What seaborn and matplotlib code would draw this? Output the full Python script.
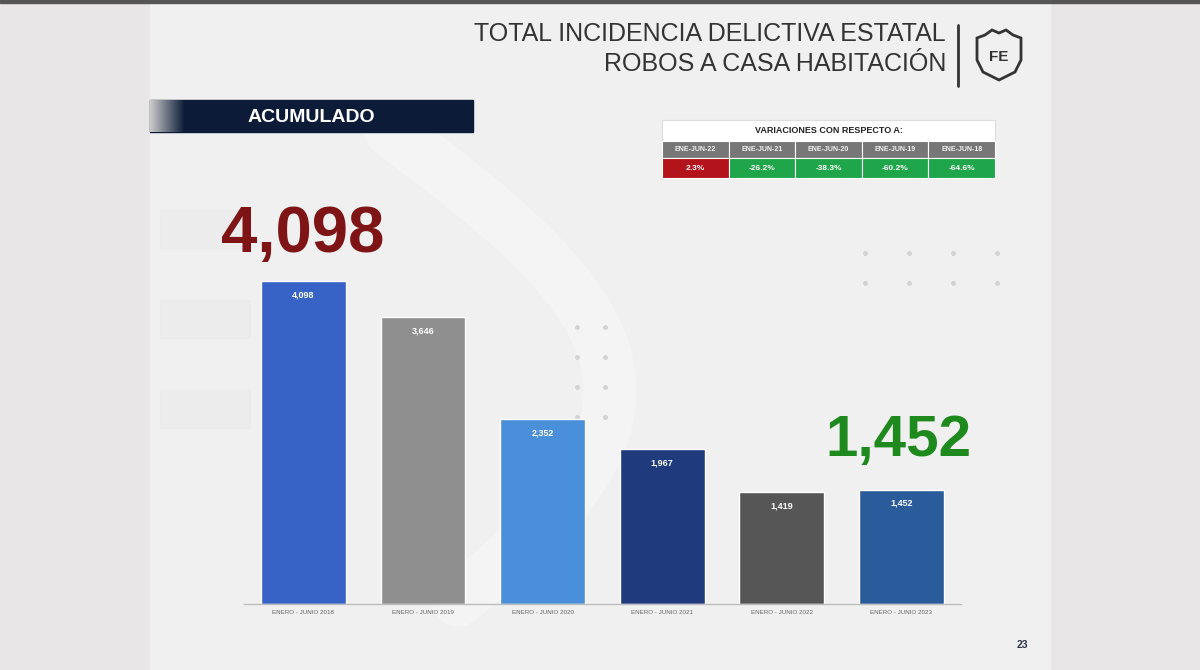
import numpy as np
import matplotlib
matplotlib.use("Agg")
import matplotlib.pyplot as plt
from matplotlib.patches import Rectangle, Polygon
import seaborn as sns
import pandas as pd

# data
periodos = ["ENERO - JUNIO 2018", "ENERO - JUNIO 2019", "ENERO - JUNIO 2020",
            "ENERO - JUNIO 2021", "ENERO - JUNIO 2022", "ENERO - JUNIO 2023"]
robos = [4098, 3646, 2352, 1967, 1419, 1452]
colores = ["#3762C6", "#8F8F8F", "#4A8FD9", "#203B7D", "#565656", "#2A5B9B"]

var_labels = ["ENE-JUN-22", "ENE-JUN-21", "ENE-JUN-20", "ENE-JUN-19", "ENE-JUN-18"]
var_values = [2.3, -26.2, -38.3, -60.2, -64.6]

df = pd.DataFrame({"periodo": periodos, "robos": robos})

sns.set_style("white")
plt.rcParams["font.family"] = ["Liberation Sans", "DejaVu Sans"]

W, H = 1200, 670
fig = plt.figure(figsize=(12, 6.7), dpi=100)
fig.patch.set_facecolor("#E8E6E6")

# background / decoration layer in pixel coords
bg = fig.add_axes([0, 0, 1, 1], zorder=0)
bg.set_xlim(0, W)
bg.set_ylim(H, 0)
bg.axis("off")
bg.add_patch(Rectangle((150, 0), 900, H, color="#F0F0F0", zorder=0))
bg.add_patch(Rectangle((0, 0), W, 3, color="#555555", zorder=1))
# faint swoosh of the logo
t = np.linspace(0, 1, 200)
bg.plot(390 + 220 * np.sin(t * np.pi * 0.9), 130 + 470 * t, color="white",
        lw=38, alpha=0.3, solid_capstyle="round", zorder=1)
for yy in (210, 300, 390):
    bg.add_patch(Rectangle((160, yy), 90, 38, color="#E6E6E6", alpha=0.3, zorder=1))
# dots
for dx in range(4):
    for dy in range(2):
        bg.plot(865 + dx * 44, 253 + dy * 30, "o", ms=2.5, color="#D3D3D3", zorder=1)
for dx in range(2):
    for dy in range(4):
        bg.plot(577 + dx * 28, 327 + dy * 30, "o", ms=2.5, color="#D3D3D3", zorder=1)

# title
bg.text(946, 34, "TOTAL INCIDENCIA DELICTIVA ESTATAL", ha="right", va="center",
        fontsize=18, color="#333333")
bg.text(946, 64, "ROBOS A CASA HABITACIÓN", ha="right", va="center",
        fontsize=18, color="#333333")
bg.plot([958, 958], [25, 86], color="#333333", lw=2)
shield = Polygon([(977, 38), (985, 35), (992, 30), (999, 33), (1006, 30), (1013, 35),
                  (1021, 38), (1021, 60), (1015, 72), (999, 80), (983, 72), (977, 60)],
                 closed=True, fill=False, ec="#333333", lw=2)
bg.add_patch(shield)
bg.text(999, 57, "FE", ha="center", va="center", fontsize=11, fontweight="bold",
        color="#333333")

# ACUMULADO banner
bg.add_patch(Rectangle((150, 100), 323, 32, color="#0C1C38", zorder=2))
grad = np.linspace(0, 1, 40).reshape(1, -1)
bg.imshow(grad, extent=(150, 185, 132, 100), cmap=matplotlib.colors.LinearSegmentedColormap.from_list(
    "g", ["#C9C9C9", "#0C1C38"]), aspect="auto", zorder=3)
bg.text(311, 117, "ACUMULADO", ha="center", va="center", fontsize=14,
        fontweight="bold", color="white", zorder=4)

# variations table
x0, cw = 662, 66.6
bg.add_patch(Rectangle((x0, 120), cw * 5, 21, fc="white", ec="#DDDDDD", lw=0.8, zorder=2))
bg.text(x0 + cw * 2.5, 130.5, "VARIACIONES CON RESPECTO A:", ha="center", va="center",
        fontsize=6.5, fontweight="bold", color="#222222", zorder=3)
for i, (lab, val) in enumerate(zip(var_labels, var_values)):
    cx = x0 + i * cw
    bg.add_patch(Rectangle((cx, 141), cw, 17, fc="#777777", ec="white", lw=0.8, zorder=2))
    bg.text(cx + cw / 2, 149.5, lab, ha="center", va="center", fontsize=5,
            fontweight="bold", color="#F2F2F2", zorder=3)
    fc = "#B3131B" if val > 0 else "#1FA64A"
    bg.add_patch(Rectangle((cx, 158), cw, 20, fc=fc, ec="white", lw=0.8, zorder=2))
    bg.text(cx + cw / 2, 168, f"{val:.1f}%", ha="center", va="center", fontsize=6,
            fontweight="bold", color="white", zorder=3)

bg.text(1022, 645, "23", ha="center", va="center", fontsize=7.5, fontweight="bold",
        color="#2B3446")

# bar chart
ax = fig.add_axes([243.7 / W, 66 / H, 717.3 / W, 394 / H], zorder=2)
ax.patch.set_alpha(0)
sns.barplot(data=df, x="periodo", y="robos", hue="periodo", palette=colores,
            legend=False, width=0.71, saturation=1, ax=ax)
ax.set_xlim(-0.5, len(periodos) - 0.5)
ax.set_ylim(0, 5000)
for s in ("top", "right", "left"):
    ax.spines[s].set_visible(False)
ax.spines["bottom"].set_color("#BDBDBD")
ax.spines["bottom"].set_linewidth(1)
ax.set_yticks([])
ax.set_xlabel("")
ax.set_ylabel("")
ax.tick_params(axis="x", length=0, pad=4, labelsize=4.5, labelcolor="#666666")

for i, v in enumerate(robos):
    ax.annotate(f"{v:,}", (i, v), xytext=(0, -10), textcoords="offset points",
                ha="center", va="center", fontsize=6.5, fontweight="bold", color="white")

# highlighted totals
ax.annotate(f"{robos[0]:,}", (0, robos[0]), xytext=(-0.5, 33), textcoords="offset points",
            ha="center", va="center", fontsize=47, fontweight="bold", color="#7E1416")
ax.annotate(f"{robos[-1]:,}", (5, robos[-1]), xytext=(-2, 35), textcoords="offset points",
            ha="center", va="center", fontsize=42, fontweight="bold", color="#1E8A1E")

fig.savefig("out.png", dpi=100, facecolor=fig.get_facecolor())
